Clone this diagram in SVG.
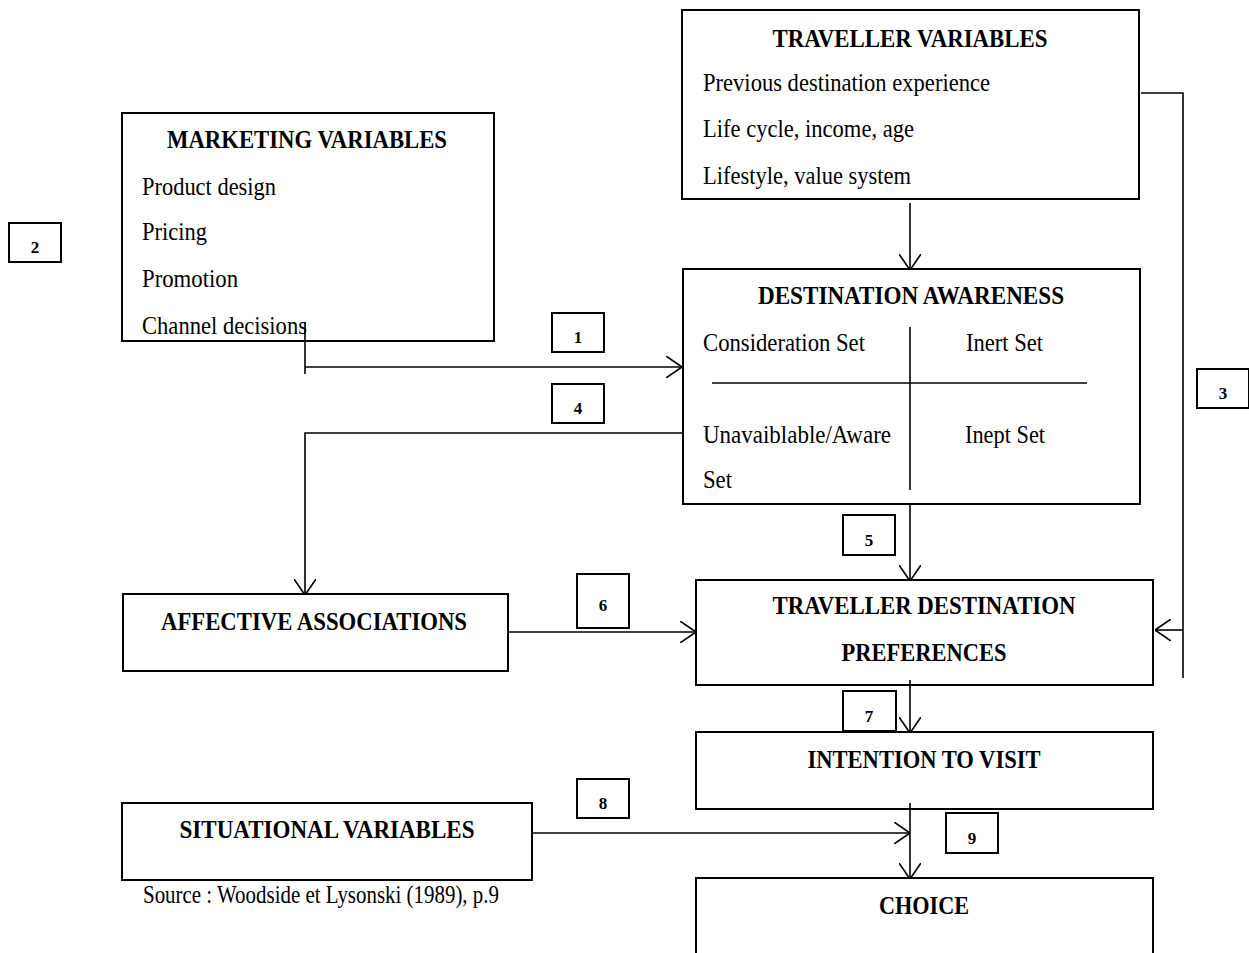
<svg xmlns="http://www.w3.org/2000/svg" width="1249" height="953" viewBox="0 0 1249 953">
<style>
.box{fill:none;stroke:#000;stroke-width:2}
.ln{fill:none;stroke:#000;stroke-width:1.6}
.t{font-family:"Liberation Serif","Times New Roman",serif;font-size:26px;fill:#000}
.b{font-family:"Liberation Serif","Times New Roman",serif;font-size:26px;font-weight:bold;fill:#000;text-anchor:middle}
.n{font-family:"Liberation Serif","Times New Roman",serif;font-size:17px;font-weight:bold;fill:#000;text-anchor:middle}
</style>
<defs>
<marker id="arr" viewBox="0 0 16 22" refX="16" refY="11" markerWidth="16" markerHeight="22" markerUnits="userSpaceOnUse" orient="auto">
<path d="M0,0 L16,11 L0,22" fill="none" stroke="#000" stroke-width="1.6"/>
</marker>
</defs>
<rect width="1249" height="953" fill="#fff"/>

<g id="connectors">
<path class="ln" d="M1141,93 H1183 V678"/>
<path class="ln" d="M1183,630 H1155" marker-end="url(#arr)"/>
<path class="ln" d="M910,203 V270" marker-end="url(#arr)"/>
<path class="ln" d="M305,322 V374"/>
<path class="ln" d="M305,367 H682" marker-end="url(#arr)"/>
<path class="ln" d="M682,433 H305 V595" marker-end="url(#arr)"/>
<path class="ln" d="M910,503 V581" marker-end="url(#arr)"/>
<path class="ln" d="M508,632 H696" marker-end="url(#arr)"/>
<path class="ln" d="M910,680 V733" marker-end="url(#arr)"/>
<path class="ln" d="M532,833 H910" marker-end="url(#arr)"/>
<path class="ln" d="M910,803 V879" marker-end="url(#arr)"/>
</g>

<g id="traveller-variables">
<rect class="box" x="682" y="10" width="457" height="189"/>
<text class="b" x="910" y="47" textLength="275" lengthAdjust="spacingAndGlyphs">TRAVELLER VARIABLES</text>
<text class="t" x="703" y="91" textLength="287" lengthAdjust="spacingAndGlyphs">Previous destination experience</text>
<text class="t" x="703" y="137" textLength="211" lengthAdjust="spacingAndGlyphs">Life cycle, income, age</text>
<text class="t" x="703" y="184" textLength="208" lengthAdjust="spacingAndGlyphs">Lifestyle, value system</text>
</g>

<g id="marketing-variables">
<rect class="box" x="122" y="113" width="372" height="228"/>
<text class="b" x="307" y="148" textLength="280" lengthAdjust="spacingAndGlyphs">MARKETING VARIABLES</text>
<text class="t" x="142" y="195" textLength="134" lengthAdjust="spacingAndGlyphs">Product design</text>
<text class="t" x="142" y="240" textLength="65" lengthAdjust="spacingAndGlyphs">Pricing</text>
<text class="t" x="142" y="287" textLength="96" lengthAdjust="spacingAndGlyphs">Promotion</text>
<text class="t" x="142" y="334" textLength="165" lengthAdjust="spacingAndGlyphs">Channel decisions</text>
</g>

<g id="destination-awareness">
<rect class="box" x="683" y="269" width="457" height="235"/>
<text class="b" x="911" y="304" textLength="306" lengthAdjust="spacingAndGlyphs">DESTINATION AWARENESS</text>
<line class="ln" x1="910" y1="327" x2="910" y2="490"/>
<line class="ln" x1="712" y1="383" x2="1087" y2="383"/>
<text class="t" x="703" y="351" textLength="162" lengthAdjust="spacingAndGlyphs">Consideration Set</text>
<text class="t" x="966" y="351" textLength="77" lengthAdjust="spacingAndGlyphs">Inert Set</text>
<text class="t" x="703" y="443" textLength="188" lengthAdjust="spacingAndGlyphs">Unavaiblable/Aware</text>
<text class="t" x="965" y="443" textLength="80" lengthAdjust="spacingAndGlyphs">Inept Set</text>
<text class="t" x="703" y="488" textLength="29" lengthAdjust="spacingAndGlyphs">Set</text>
</g>

<g id="affective-associations">
<rect class="box" x="123" y="594" width="385" height="77"/>
<text class="b" x="314" y="630" textLength="306" lengthAdjust="spacingAndGlyphs">AFFECTIVE ASSOCIATIONS</text>
</g>

<g id="traveller-destination-preferences">
<rect class="box" x="696" y="580" width="457" height="105"/>
<text class="b" x="924" y="614" textLength="303" lengthAdjust="spacingAndGlyphs">TRAVELLER DESTINATION</text>
<text class="b" x="924" y="661" textLength="165" lengthAdjust="spacingAndGlyphs">PREFERENCES</text>
</g>

<g id="intention-to-visit">
<rect class="box" x="696" y="732" width="457" height="77"/>
<text class="b" x="924" y="768" textLength="233" lengthAdjust="spacingAndGlyphs">INTENTION TO VISIT</text>
</g>

<g id="situational-variables">
<rect class="box" x="122" y="803" width="410" height="77"/>
<text class="b" x="327" y="838" textLength="295" lengthAdjust="spacingAndGlyphs">SITUATIONAL VARIABLES</text>
</g>

<g id="choice">
<path class="box" d="M696,953 V878 H1153 V953"/>
<text class="b" x="924" y="914" textLength="90" lengthAdjust="spacingAndGlyphs">CHOICE</text>
</g>

<g id="source">
<text class="t" x="143" y="903" textLength="356" lengthAdjust="spacingAndGlyphs">Source : Woodside et Lysonski (1989), p.9</text>
</g>

<g id="label-1"><rect class="box" x="552" y="313" width="52" height="39"/><text class="n" x="578" y="343">1</text></g>
<g id="label-2"><rect class="box" x="9" y="223" width="52" height="39"/><text class="n" x="35" y="253">2</text></g>
<g id="label-3"><rect class="box" x="1197" y="369" width="52" height="39"/><text class="n" x="1223" y="399">3</text></g>
<g id="label-4"><rect class="box" x="552" y="384" width="52" height="39"/><text class="n" x="578" y="414">4</text></g>
<g id="label-5"><rect class="box" x="843" y="515" width="52" height="40"/><text class="n" x="869" y="546">5</text></g>
<g id="label-6"><rect class="box" x="577" y="574" width="52" height="54"/><text class="n" x="603" y="611">6</text></g>
<g id="label-7"><rect class="box" x="843" y="691" width="53" height="40"/><text class="n" x="869" y="722">7</text></g>
<g id="label-8"><rect class="box" x="577" y="779" width="52" height="39"/><text class="n" x="603" y="809">8</text></g>
<g id="label-9"><rect class="box" x="946" y="813" width="52" height="40"/><text class="n" x="972" y="844">9</text></g>
</svg>
